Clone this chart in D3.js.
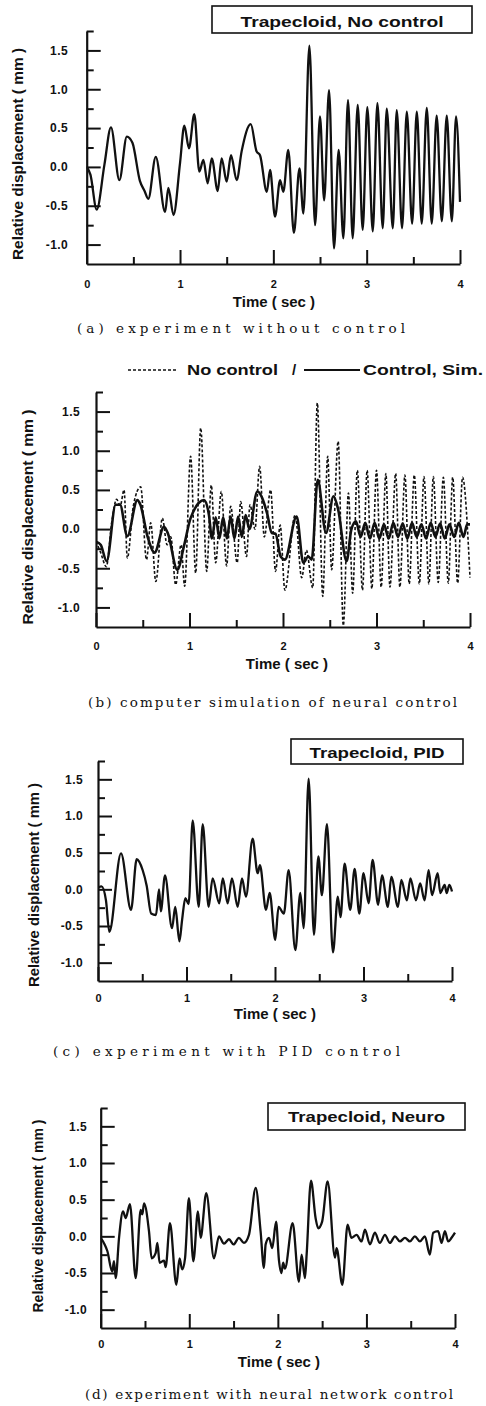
<!DOCTYPE html>
<html>
<head>
<meta charset="utf-8" />
<title>Trapecloid response</title>
<script src="https://cdn.jsdelivr.net/npm/d3@7"></script>
<style>
  html, body { margin: 0; padding: 0; background: #fff; }
  svg { display: block; }
  .tick text { font-family: "Liberation Sans", Arial, sans-serif; font-weight: bold; fill: #111; }
  .lbl { font-family: "Liberation Sans", Arial, sans-serif; font-weight: bold; fill: #111; }
  .cap { font-family: "DejaVu Serif", "Liberation Serif", serif; fill: #111; }
</style>
</head>
<body>
<svg id="chart" width="486" height="1406"></svg>
<script>
// axis ticks
const xMajor = [0, 1, 2, 3, 4];
const xMinor = [0.5, 1.5, 2.5, 3.5];
const yMajor = [-1.0, -0.5, 0.0, 0.5, 1.0, 1.5];
const yMinor = [-0.75, -0.25, 0.25, 0.75, 1.25, 1.75];

// (a) experiment, no control  (peaks / troughs)
const timeNoCtrl = [0.00,0.04,0.107,0.19,0.26,0.35,0.43,0.49,0.57,0.62,0.66,0.74,0.84,0.875,0.93,1.00,1.046,1.096,1.153,1.207,1.25,1.296,1.34,1.404,1.446,1.50,1.546,1.607,1.66,1.758,1.82,1.857,1.93,1.965,2.018,2.072,2.107,2.16,2.22,2.28,2.322,2.386,2.447,2.50,2.544,2.597,2.65,2.70,2.75,2.80,2.85,2.904,2.957,3.007,3.065,3.115,3.172,3.215,3.28,3.322,3.379,3.43,3.487,3.537,3.59,3.644,3.697,3.75,3.805,3.858,3.912,3.958,4.00];
const dispNoCtrl = [0.00,-0.10,-0.55,0.03,0.51,-0.17,0.39,0.31,-0.18,-0.31,-0.41,0.13,-0.58,-0.27,-0.62,0.05,0.53,0.24,0.68,-0.06,0.09,-0.21,0.11,-0.31,0.11,-0.19,0.15,-0.17,0.20,0.55,0.20,0.15,-0.32,-0.04,-0.64,-0.17,-0.32,0.22,-0.85,-0.02,-0.60,1.56,-0.75,0.65,-0.43,0.99,-1.05,0.22,-0.92,0.86,-0.92,0.80,-0.81,0.77,-0.83,0.82,-0.79,0.75,-0.79,0.73,-0.79,0.71,-0.73,0.71,-0.73,0.76,-0.73,0.66,-0.70,0.66,-0.70,0.65,-0.45];

// (b) simulation, no control (dashed)
const timeSimNoCtrl = [0.00,0.05,0.11,0.17,0.22,0.26,0.30,0.335,0.40,0.478,0.54,0.585,0.64,0.71,0.76,0.80,0.852,0.91,0.948,1.012,1.066,1.12,1.184,1.233,1.28,1.34,1.397,1.44,1.51,1.547,1.61,1.647,1.70,1.75,1.80,1.868,1.92,1.97,2.02,2.13,2.20,2.25,2.318,2.367,2.425,2.478,2.52,2.59,2.645,2.70,2.745,2.795,2.85,2.90,2.95,3.00,3.05,3.10,3.144,3.205,3.25,3.304,3.35,3.404,3.458,3.508,3.56,3.608,3.66,3.715,3.768,3.815,3.868,3.92,4.00];
const dispSimNoCtrl = [-0.16,-0.30,-0.48,0.10,0.38,0.30,0.50,-0.37,0.30,0.54,-0.39,0.08,-0.67,0.14,-0.20,-0.10,-0.71,-0.20,-0.73,0.93,-0.56,1.29,-0.54,0.56,-0.43,0.48,-0.47,0.29,-0.43,0.35,-0.35,0.31,0.00,0.80,-0.10,0.50,-0.54,0.05,-0.78,0.18,-0.62,-0.27,-0.75,1.61,-0.86,0.93,-0.52,1.12,-1.23,0.46,-0.82,0.75,-0.78,0.75,-0.76,0.75,-0.74,0.71,-0.74,0.71,-0.74,0.69,-0.70,0.69,-0.70,0.67,-0.70,0.67,-0.68,0.66,-0.69,0.66,-0.69,0.66,-0.62];

// (b) simulation, neural control (solid)
const timeSimCtrl = [0.00,0.05,0.114,0.21,0.257,0.335,0.442,0.475,0.55,0.627,0.727,0.77,0.87,0.94,1.012,1.155,1.208,1.24,1.28,1.32,1.36,1.40,1.44,1.48,1.52,1.56,1.60,1.64,1.725,1.83,1.88,1.92,1.975,2.02,2.146,2.217,2.27,2.307,2.371,2.46,2.54,2.59,2.68,2.73,2.78,2.83,2.88,2.93,2.98,3.03,3.08,3.13,3.18,3.23,3.28,3.33,3.38,3.43,3.48,3.53,3.58,3.63,3.68,3.73,3.78,3.83,3.88,3.93,3.97,4.00];
const dispSimCtrl = [-0.16,-0.20,-0.41,0.31,0.31,-0.09,0.37,0.31,-0.09,-0.30,0.03,-0.06,-0.52,-0.22,0.14,0.37,0.18,-0.12,0.15,-0.12,0.15,-0.12,0.16,-0.12,0.16,-0.10,0.18,0.00,0.48,0.20,-0.05,-0.06,-0.35,-0.39,0.16,-0.43,-0.35,-0.39,0.63,-0.05,0.42,0.25,-0.41,-0.01,0.10,-0.10,0.08,-0.12,0.08,-0.12,0.06,-0.12,0.08,-0.10,0.07,-0.12,0.08,-0.10,0.06,-0.12,0.08,-0.10,0.07,-0.12,0.06,-0.10,0.08,-0.10,0.06,0.06];

// (c) experiment, PID
const timePID = [0.00,0.04,0.09,0.128,0.26,0.373,0.437,0.505,0.55,0.60,0.655,0.69,0.71,0.757,0.836,0.873,0.92,0.95,0.987,1.024,1.07,1.138,1.183,1.25,1.295,1.37,1.41,1.465,1.514,1.578,1.627,1.672,1.747,1.804,1.83,1.898,1.94,2.003,2.04,2.10,2.154,2.23,2.286,2.324,2.38,2.44,2.49,2.53,2.587,2.655,2.71,2.74,2.787,2.85,2.90,2.953,3.00,3.058,3.103,3.165,3.209,3.276,3.314,3.39,3.427,3.49,3.53,3.593,3.64,3.69,3.736,3.774,3.838,3.868,3.917,3.94,3.97,4.00];
const dispPID = [0.02,0.04,-0.15,-0.58,0.49,-0.28,0.41,0.26,0.05,-0.33,-0.35,0.00,-0.30,0.19,-0.53,-0.24,-0.71,-0.42,-0.12,-0.20,0.94,-0.24,0.89,-0.24,0.15,-0.19,0.15,-0.19,0.15,-0.24,0.15,-0.10,0.69,0.22,0.33,-0.28,-0.05,-0.69,-0.24,-0.33,0.26,-0.83,-0.05,-0.53,1.51,-0.62,0.45,-0.08,0.89,-0.86,-0.10,-0.38,0.35,-0.28,0.28,-0.33,0.22,-0.19,0.40,-0.21,0.19,-0.24,0.17,-0.24,0.13,-0.15,0.15,-0.15,0.08,-0.15,0.26,-0.08,0.22,-0.05,0.06,-0.05,0.06,-0.03];

// (d) experiment, neural network
const timeNeuro = [0.00,0.04,0.075,0.13,0.15,0.169,0.207,0.252,0.282,0.33,0.395,0.451,0.47,0.489,0.545,0.575,0.62,0.64,0.665,0.715,0.733,0.782,0.854,0.89,0.92,0.952,0.996,1.046,1.098,1.128,1.192,1.279,1.335,1.392,1.448,1.50,1.56,1.617,1.674,1.75,1.805,1.843,1.862,1.90,1.937,1.98,2.012,2.04,2.06,2.08,2.167,2.238,2.268,2.306,2.325,2.374,2.426,2.456,2.50,2.562,2.645,2.663,2.728,2.788,2.83,2.889,2.945,2.983,3.04,3.095,3.152,3.209,3.265,3.322,3.378,3.435,3.491,3.547,3.604,3.66,3.716,3.754,3.81,3.848,3.886,3.923,3.961,4.00];
const dispNeuro = [-0.02,-0.10,-0.20,-0.48,-0.34,-0.57,-0.02,0.34,0.25,0.44,-0.57,0.36,0.30,0.45,0.07,-0.30,-0.23,-0.09,-0.36,-0.33,-0.42,0.18,-0.66,-0.30,-0.45,-0.30,0.52,-0.34,0.34,-0.02,0.59,-0.30,0.00,-0.10,-0.04,-0.11,-0.02,-0.09,0.02,0.66,0.07,-0.43,-0.11,-0.02,-0.16,0.20,-0.32,-0.50,-0.36,-0.44,0.18,-0.62,-0.25,-0.57,-0.25,0.76,0.25,0.11,0.20,0.75,-0.29,-0.16,-0.66,0.16,-0.02,0.02,-0.07,0.09,-0.11,0.05,-0.09,0.02,-0.09,0.00,-0.07,-0.02,-0.07,0.00,-0.07,0.00,-0.25,0.05,0.07,-0.09,0.07,-0.07,-0.02,0.05];

const svg = d3.select("#chart");

const panels = [
  { left: 86.7, right: 460, top: 31, bottom: 264, labRight: 68, xLabY: 288,
    yTitle: { x: 23, y: 154, len: 212 }, xTitle: { x: 274, y: 307 },
    box: { x0: 212, y0: 6, x1: 472, y1: 33, text: "Trapecloid, No control", ty: 26.5, len: 203 },
    caption: { text: "(a) experiment without control", x0: 77, x1: 405, y: 333 },
    series: [{ t: timeNoCtrl, v: dispNoCtrl, dash: null }] },
  { left: 96, right: 470, top: 392, bottom: 627, labRight: 80, xLabY: 650,
    yTitle: { x: 33, y: 517, len: 215 }, xTitle: { x: 287, y: 669 },
    caption: { text: "(b) computer simulation of neural control", x0: 88, x1: 457, y: 707 },
    legend: true,
    series: [{ t: timeSimNoCtrl, v: dispSimNoCtrl, dash: "3,2", w: 1.6 },
             { t: timeSimCtrl, v: dispSimCtrl, dash: null, w: 2.6 }] },
  { left: 98, right: 452, top: 761, bottom: 981, labRight: 83, xLabY: 1002,
    yTitle: { x: 39, y: 885, len: 204 }, xTitle: { x: 275, y: 1019 },
    box: { x0: 291, y0: 739, x1: 463, y1: 764, text: "Trapecloid, PID", ty: 758, len: 135 },
    caption: { text: "(c) experiment with PID control", x0: 53, x1: 400, y: 1056 },
    series: [{ t: timePID, v: dispPID, dash: null }] },
  { left: 100.7, right: 455, top: 1108, bottom: 1328, labRight: 87, xLabY: 1348,
    yTitle: { x: 43, y: 1216, len: 193 }, xTitle: { x: 279, y: 1367 },
    box: { x0: 268, y0: 1103, x1: 465, y1: 1130, text: "Trapecloid, Neuro", ty: 1122, len: 157 },
    caption: { text: "(d) experiment with neural network control", x0: 85, x1: 453, y: 1399 },
    series: [{ t: timeNeuro, v: dispNeuro, dash: null }] }
];

panels.forEach((p, i) => {
  const x = d3.scaleLinear().domain([0, 4]).range([p.left, p.right]);
  const y = d3.scaleLinear().domain([-1.25, 1.75]).range([p.bottom, p.top]);
  const g = svg.append("g");

  // clip for data lines
  svg.append("clipPath").attr("id", "clip" + i)
    .append("rect").attr("x", p.left).attr("y", p.top - 2)
    .attr("width", p.right - p.left + 2).attr("height", p.bottom - p.top + 2);

  const line = d3.line()
    .x(d => x(d[0])).y(d => y(d[1]))
    .curve(d3.curveMonotoneX);

  p.series.forEach(s => {
    const pts = s.t.map((t, k) => [t, s.v[k]]);
    g.append("path")
      .attr("d", line(pts))
      .attr("clip-path", `url(#clip${i})`)
      .attr("fill", "none")
      .attr("stroke", "#111")
      .attr("stroke-width", s.w || 2.3)
      .attr("stroke-linejoin", "round")
      .attr("stroke-dasharray", s.dash);
  });

  // y axis: labels left, ticks pointing into the plot
  const yAx = g.append("g").attr("transform", `translate(${p.left},0)`)
    .call(d3.axisLeft(y).tickValues(yMajor).tickSize(-14).tickSizeOuter(0)
      .tickPadding(p.left - p.labRight).tickFormat(d => d.toFixed(1)));
  g.append("g").attr("transform", `translate(${p.left},0)`)
    .call(d3.axisLeft(y).tickValues(yMinor).tickSize(-7).tickSizeOuter(0).tickFormat(""))
    .select(".domain").remove();

  // x axis
  const xAx = g.append("g").attr("transform", `translate(0,${p.bottom})`)
    .call(d3.axisBottom(x).tickValues(xMajor).tickSize(-14).tickSizeOuter(0)
      .tickPadding(p.xLabY - p.bottom - 8).tickFormat(d3.format("d")));
  g.append("g").attr("transform", `translate(0,${p.bottom})`)
    .call(d3.axisBottom(x).tickValues(xMinor).tickSize(-7).tickSizeOuter(0).tickFormat(""))
    .select(".domain").remove();

  g.selectAll(".domain").attr("stroke", "#111").attr("stroke-width", 2.2);
  g.selectAll(".tick line").attr("stroke", "#111").attr("stroke-width", 2);
  yAx.selectAll(".tick text").attr("font-size", 12).attr("letter-spacing", 0.4);
  xAx.selectAll(".tick text").attr("font-size", 11);

  // axis titles
  g.append("text").attr("class", "lbl")
    .attr("transform", `translate(${p.yTitle.x},${p.yTitle.y}) rotate(-90)`)
    .attr("text-anchor", "middle").attr("font-size", 14)
    .attr("textLength", p.yTitle.len).attr("lengthAdjust", "spacingAndGlyphs")
    .text("Relative displacement ( mm )");
  g.append("text").attr("class", "lbl")
    .attr("x", p.xTitle.x).attr("y", p.xTitle.y)
    .attr("text-anchor", "middle").attr("font-size", 15)
    .text("Time ( sec )");

  // boxed title
  if (p.box) {
    g.append("rect")
      .attr("x", p.box.x0).attr("y", p.box.y0)
      .attr("width", p.box.x1 - p.box.x0).attr("height", p.box.y1 - p.box.y0)
      .attr("fill", "none").attr("stroke", "#111").attr("stroke-width", 1.6);
    g.append("text").attr("class", "lbl")
      .attr("x", (p.box.x0 + p.box.x1) / 2).attr("y", p.box.ty)
      .attr("text-anchor", "middle").attr("font-size", 15)
      .attr("textLength", p.box.len).attr("lengthAdjust", "spacingAndGlyphs")
      .text(p.box.text);
  }

  // legend for (b)
  if (p.legend) {
    const ly = 370;
    g.append("line").attr("x1", 128).attr("x2", 177).attr("y1", ly).attr("y2", ly)
      .attr("stroke", "#111").attr("stroke-width", 1.6).attr("stroke-dasharray", "3,2");
    g.append("text").attr("class", "lbl").attr("x", 187).attr("y", 375)
      .attr("font-size", 15).attr("textLength", 91).attr("lengthAdjust", "spacingAndGlyphs")
      .text("No control");
    g.append("text").attr("class", "lbl").attr("x", 292).attr("y", 375)
      .attr("font-size", 15).text("/");
    g.append("line").attr("x1", 304).attr("x2", 360).attr("y1", ly).attr("y2", ly)
      .attr("stroke", "#111").attr("stroke-width", 1.8);
    g.append("text").attr("class", "lbl").attr("x", 363).attr("y", 375)
      .attr("font-size", 15).attr("textLength", 120).attr("lengthAdjust", "spacingAndGlyphs")
      .text("Control, Sim.");
  }

  // caption under the panel
  g.append("text").attr("class", "cap")
    .attr("x", p.caption.x0).attr("y", p.caption.y)
    .attr("font-size", 13.5)
    .attr("textLength", p.caption.x1 - p.caption.x0).attr("lengthAdjust", "spacing")
    .text(p.caption.text);
});
</script>
</body>
</html>
